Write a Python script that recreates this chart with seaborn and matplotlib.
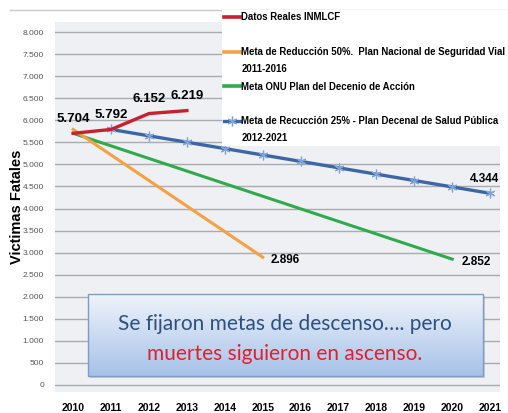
import numpy as np
import pandas as pd
import matplotlib
matplotlib.use("Agg")
import matplotlib.pyplot as plt
import seaborn as sns
from matplotlib.lines import Line2D
from matplotlib.patches import Rectangle
from matplotlib.colors import LinearSegmentedColormap

# data
years_real = [2010, 2011, 2012, 2013]
real = [5704, 5792, 6152, 6219]

years_50 = [2010, 2015]
meta_50 = [5792, 2896]

years_onu = [2010, 2020]
meta_onu = [5704, 2852]

years_25 = [2011, 2012, 2013, 2014, 2015, 2016, 2017, 2018, 2019, 2020, 2021]
meta_25 = [5792, 5647, 5502, 5358, 5213, 5068, 4923, 4778, 4634, 4489, 4344]

year_ticks = list(range(2010, 2022))
y_ticks = list(range(0, 8001, 500))

legend_labels = [
    "Datos Reales INMLCF",
    "Meta de Reducción 50%.  Plan Nacional de Seguridad Vial",
    "Meta ONU Plan del Decenio de Acción",
    "Meta de Recucción 25% - Plan Decenal de Salud Pública",
]
legend_second = ["", "2011-2016", "", "2012-2021"]

RED, ORANGE, GREEN, BLUE = "#c8202f", "#f4a043", "#2fab4b", "#3d66a6"
NARROW = ["Liberation Sans", "DejaVu Sans"]

df_real = pd.DataFrame({"year": years_real, "v": real})
df_50 = pd.DataFrame({"year": years_50, "v": meta_50})
df_onu = pd.DataFrame({"year": years_onu, "v": meta_onu})
df_25 = pd.DataFrame({"year": years_25, "v": meta_25})

fig = plt.figure(figsize=(5.08, 4.13), dpi=100)
ax = fig.add_axes([55 / 508, 1 - 392 / 413, 445 / 508, 370 / 413])
ax.set_facecolor("#eef0f4")

sns.lineplot(data=df_onu, x="year", y="v", ax=ax, color=GREEN, linewidth=2.2, zorder=3)
sns.lineplot(data=df_50, x="year", y="v", ax=ax, color=ORANGE, linewidth=2.2, zorder=3)
sns.lineplot(data=df_25, x="year", y="v", ax=ax, color=BLUE, linewidth=2.4, zorder=3,
             marker=(6, 2, 0), markersize=7, markeredgecolor="#7fa3d6", markeredgewidth=0.9)
sns.lineplot(data=df_real, x="year", y="v", ax=ax, color=RED, linewidth=2.4, zorder=4)

def fmt(v):
    return f"{v:,}".replace(",", ".")

for x, v in zip(years_real, real):
    ax.annotate(fmt(v), (x, v), xytext=(0, 6), textcoords="offset points",
                ha="center", va="bottom", fontsize=9.5, fontweight="bold", family=NARROW)
ax.annotate(fmt(meta_50[-1]), (years_50[-1], meta_50[-1]), xytext=(6, -2), textcoords="offset points",
            ha="left", va="center", fontsize=8.5, fontweight="bold", family=NARROW)
ax.annotate(fmt(meta_onu[-1]), (years_onu[-1], meta_onu[-1]), xytext=(7, -2), textcoords="offset points",
            ha="left", va="center", fontsize=8.5, fontweight="bold", family=NARROW)
ax.annotate(fmt(meta_25[-1]), (years_25[-1], meta_25[-1]), xytext=(-4, 6), textcoords="offset points",
            ha="center", va="bottom", fontsize=8.5, fontweight="bold", family=NARROW)

ax.set_xticks(year_ticks)
ax.set_xticklabels([str(y) for y in year_ticks], fontsize=7.5, fontweight="bold", family=NARROW)
ax.set_yticks(y_ticks)
ax.set_yticklabels([fmt(v) for v in y_ticks], fontsize=6, color="#555555", family=NARROW)
ax.tick_params(length=0, axis="both")
ax.tick_params(axis="x", pad=8)
ax.tick_params(axis="y", pad=8)
ax.grid(axis="y", color="#a9abae", linewidth=1)
ax.set_axisbelow(True)
for s in ax.spines.values():
    s.set_visible(False)
ax.set_xlabel("")
ax.set_ylabel("Victimas Fatales", fontsize=10.5, fontweight="bold", family=NARROW)
ax.yaxis.set_label_coords(-0.07, 0.5)

# message box with vertical gradient
x0, x1, y0, y1 = 0.074, 0.962, 0.043, 0.265
cmap = LinearSegmentedColormap.from_list("box", ["#a6c2e8", "#f0f4fb"])
ax.add_patch(Rectangle((x0 + 0.004, y0 - 0.006), x1 - x0, y1 - y0, transform=ax.transAxes,
                       facecolor="#9a9a9a", alpha=0.4, edgecolor="none", zorder=5))
ax.imshow(np.linspace(0, 1, 100).reshape(-1, 1), cmap=cmap, extent=(x0, x1, y0, y1),
          transform=ax.transAxes, aspect="auto", origin="lower", zorder=6)
ax.add_patch(Rectangle((x0, y0), x1 - x0, y1 - y0, transform=ax.transAxes,
                       facecolor="none", edgecolor="#7f9cc4", linewidth=1, zorder=7))
ax.text(0.517, 0.183, "Se fijaron metas de descenso…. pero", transform=ax.transAxes,
        ha="center", va="center", fontsize=15, color="#2f4f80", family=["Lato", "DejaVu Sans"], zorder=8)
ax.text(0.517, 0.102, "muertes siguieron en ascenso.", transform=ax.transAxes,
        ha="center", va="center", fontsize=15, color="#e0202e", family=["Lato", "DejaVu Sans"], zorder=8)
ax.set_xlim(2009.52, 2021.26)
ax.set_ylim(-159, 8227)

# legend, laid out in rows like the original
colors = [RED, ORANGE, GREEN, BLUE]
handles, labels = [], []
blank = Line2D([], [], color="none")
for i, (lab, sec, c) in enumerate(zip(legend_labels, legend_second, colors)):
    if i == 3:
        h = Line2D([], [], color=c, linewidth=2.4, marker=(6, 2, 0), markersize=7,
                   markeredgecolor="#7fa3d6", markeredgewidth=0.9)
    else:
        h = Line2D([], [], color=c, linewidth=2.6)
    handles.append(h)
    labels.append(lab)
    if sec:
        handles.append(blank)
        labels.append(sec)
    if i in (0, 2):
        handles.append(blank)
        labels.append(" ")
leg = fig.legend(handles, labels, loc="upper left", bbox_to_anchor=(222 / 508, 1 - 10 / 413),
                 frameon=True, fancybox=False, framealpha=1, facecolor="white", edgecolor="none",
                 handlelength=1.6, handletextpad=0.15, labelspacing=0.76, borderpad=0.25,
                 borderaxespad=0, prop={"family": NARROW, "weight": "bold", "size": 6.9})

fig.add_artist(Line2D([10 / 508, 1], [1 - 10 / 413, 1 - 10 / 413], color="#c8c8c8", linewidth=1, zorder=0))

fig.savefig("out.png", dpi=100)
